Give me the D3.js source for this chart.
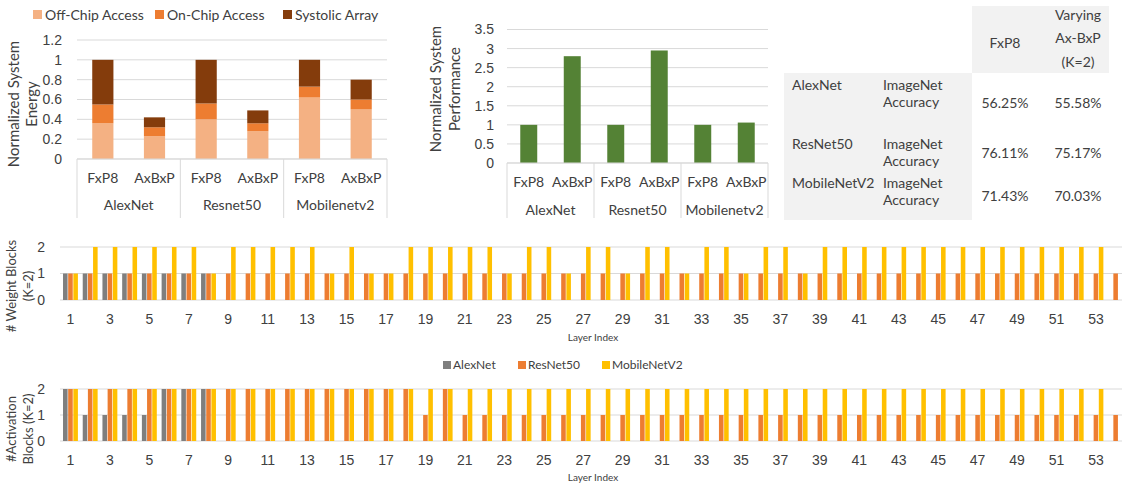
<!DOCTYPE html>
<html>
<head>
<meta charset="utf-8">
<script src="https://cdn.jsdelivr.net/npm/d3@7"></script>
<style>
  body { margin: 0; background: #fff; }
  svg { display: block; font-family: Lato, "Open Sans", sans-serif; }
  text { fill: #404040; }
</style>
</head>
<body>
<svg id="fig" width="1126" height="483"></svg>
<script>
// ---- data ----
const modelGroups = ["AlexNet", "Resnet50", "Mobilenetv2"];
const precisionModes = ["FxP8", "AxBxP"];
const energyKeys = ["Off-Chip Access", "On-Chip Access", "Systolic Array"];
// order: AlexNet FxP8, AlexNet AxBxP, Resnet50 FxP8, Resnet50 AxBxP, Mobilenetv2 FxP8, Mobilenetv2 AxBxP
const offChip = [0.36, 0.23, 0.40, 0.28, 0.62, 0.50];
const onChip = [0.19, 0.09, 0.16, 0.08, 0.11, 0.10];
const systolic = [0.45, 0.10, 0.44, 0.13, 0.27, 0.20];
const performance = [1, 2.8, 1, 2.95, 1, 1.06];

const tableHeader = ["FxP8", ["Varying", "Ax-BxP", "(K=2)"]];
const tableModels = ["AlexNet", "ResNet50", "MobileNetV2"];
const tableMetric = ["ImageNet", "Accuracy"];
const accFxP8 = ["56.25%", "76.11%", "71.43%"];
const accAxBxP = ["55.58%", "75.17%", "70.03%"];

const layerSeries = ["AlexNet", "ResNet50", "MobileNetV2"];
const layerIndex = d3.range(1, 55);
const weightAlex = [1, 1, 1, 1, 1, 1, 1, 1];
const weightResnet = [1, 1, 1, 1, 1, 1, 1, 1, 1, 1, 1, 1, 1, 1, 1, 1, 1, 1, 1, 1, 1, 1, 1, 1, 1, 1, 1,
  1, 1, 1, 1, 1, 1, 1, 1, 1, 1, 1, 1, 1, 1, 1, 1, 1, 1, 1, 1, 1, 1, 1, 1, 1, 1, 1];
const weightMobile = [1, 2, 2, 2, 2, 2, 2, 1, 2, 2, 2, 2, 2, 1, 2, 1, 1, 2, 2, 2, 2, 2, 1, 2, 2, 1, 2,
  2, 1, 2, 2, 1, 2, 2, 1, 2, 2, 1, 2, 2, 2, 2, 2, 2, 2, 2, 2, 2, 2, 2, 2, 2, 2];
const actAlex = [2, 1, 1, 1, 1, 2, 2, 2];
const actResnet = [2, 2, 2, 2, 2, 2, 2, 2, 2, 2, 2, 2, 2, 2, 2, 2, 2, 2, 1, 2, 1, 1, 1, 1, 1, 1, 1,
  1, 1, 1, 1, 1, 1, 1, 1, 1, 1, 1, 1, 1, 1, 1, 1, 1, 1, 1, 1, 1, 1, 1, 1, 1, 1, 1];
const actMobile = [2, 2, 2, 2, 2, 2, 2, 2, 2, 2, 2, 2, 2, 2, 2, 2, 2, 2, 2, 2, 2, 2, 2, 2, 2, 2, 2,
  2, 2, 2, 2, 2, 2, 2, 2, 2, 2, 2, 2, 2, 2, 2, 2, 2, 2, 2, 2, 2, 2, 2, 2, 2, 2];

const energyColors = ["#F4B183", "#ED7D31", "#843C0C"];
const perfColor = "#548235";
const layerColors = ["#7F7F7F", "#ED7D31", "#FFC000"];
const gridColor = "#D9D9D9";

const svg = d3.select("#fig");

// ---- helpers ----
function yTitle(lines, x, y, dx, size) {
  const t = svg.append("text")
    .attr("transform", `translate(${x},${y}) rotate(-90)`)
    .attr("text-anchor", "middle")
    .style("font-size", `${size}px`);
  lines.forEach((l, i) => t.append("tspan").attr("x", 0).attr("y", i * dx).text(l));
}

function groupedCategoryAxis(xScale, subScale, yBase, yBottom, ySub, yGroup) {
  const g = svg.append("g");
  const [x0, x1] = xScale.range();
  g.append("line").attr("x1", x0).attr("x2", x1).attr("y1", yBase).attr("y2", yBase)
    .attr("stroke", gridColor);
  xScale.domain().concat([null]).forEach((d) => {
    const x = d === null ? x1 : xScale(d);
    g.append("line").attr("x1", x).attr("x2", x).attr("y1", yBase).attr("y2", yBottom)
      .attr("stroke", gridColor);
  });
  xScale.domain().forEach((grp) => {
    subScale.domain().forEach((m) => {
      g.append("text")
        .attr("x", xScale(grp) + subScale(m) + subScale.bandwidth() / 2)
        .attr("y", ySub).attr("dy", "0.35em")
        .attr("text-anchor", "middle").style("font-size", "14px").text(m);
    });
    g.append("text")
      .attr("x", xScale(grp) + xScale.bandwidth() / 2)
      .attr("y", yGroup).attr("dy", "0.35em")
      .attr("text-anchor", "middle").style("font-size", "14px").text(grp);
  });
}

function valueGrid(yScale, ticks, x0, x1, labelX) {
  const g = svg.append("g");
  g.selectAll("line").data(ticks).join("line")
    .attr("x1", x0).attr("x2", x1)
    .attr("y1", (d) => yScale(d)).attr("y2", (d) => yScale(d))
    .attr("stroke", gridColor);
  svg.append("g")
    .attr("transform", `translate(${labelX},0)`)
    .call(d3.axisLeft(yScale).tickValues(ticks).tickSize(0).tickFormat(d3.format("~g")))
    .call((a) => a.select(".domain").remove())
    .selectAll("text").style("font-size", "14px").attr("fill", "#404040");
}

// ---- energy chart ----
{
  const x = d3.scaleBand().domain(modelGroups).range([77, 387]);
  const sub = d3.scaleBand().domain(precisionModes).range([0, x.bandwidth()])
    .paddingInner(0.59).paddingOuter(0.295);
  const y = d3.scaleLinear().domain([0, 1.2]).range([159, 40]);
  valueGrid(y, d3.range(0, 1.21, 0.2).map((v) => +v.toFixed(1)), 77, 387, 65);

  const rows = [];
  modelGroups.forEach((g, gi) => precisionModes.forEach((m, mi) => {
    const i = gi * 2 + mi;
    rows.push({ group: g, mode: m,
      "Off-Chip Access": offChip[i], "On-Chip Access": onChip[i], "Systolic Array": systolic[i] });
  }));
  const stacked = d3.stack().keys(energyKeys)(rows);
  svg.append("g").selectAll("g").data(stacked).join("g")
    .attr("fill", (d, i) => energyColors[i])
    .selectAll("rect").data((d) => d).join("rect")
    .attr("x", (d) => x(d.data.group) + sub(d.data.mode))
    .attr("width", sub.bandwidth())
    .attr("y", (d) => y(d[1]))
    .attr("height", (d) => y(d[0]) - y(d[1]));

  groupedCategoryAxis(x, sub, 159, 218, 178, 205);
  yTitle(["Normalized System", "Energy"], 19, 104, 18, 15);

  // legend
  const legendX = [33, 155, 283];
  const lg = svg.append("g");
  energyKeys.forEach((k, i) => {
    lg.append("rect").attr("x", legendX[i]).attr("y", 10).attr("width", 9).attr("height", 9)
      .attr("fill", energyColors[i]);
    lg.append("text").attr("x", legendX[i] + 12).attr("y", 15).attr("dy", "0.35em")
      .style("font-size", "14px").text(k);
  });
}

// ---- performance chart ----
{
  const x = d3.scaleBand().domain(modelGroups).range([507, 768]);
  const sub = d3.scaleBand().domain(precisionModes).range([0, x.bandwidth()])
    .paddingInner(0.61).paddingOuter(0.305);
  const y = d3.scaleLinear().domain([0, 3.5]).range([163, 29.5]);
  valueGrid(y, d3.range(0, 3.51, 0.5), 507, 768, 497);

  const rows = [];
  modelGroups.forEach((g, gi) => precisionModes.forEach((m, mi) => {
    rows.push({ group: g, mode: m, value: performance[gi * 2 + mi] });
  }));
  svg.append("g").selectAll("rect").data(rows).join("rect")
    .attr("fill", perfColor)
    .attr("x", (d) => x(d.group) + sub(d.mode))
    .attr("width", sub.bandwidth())
    .attr("y", (d) => y(d.value))
    .attr("height", (d) => y(0) - y(d.value));

  groupedCategoryAxis(x, sub, 163, 218, 182, 210);
  yTitle(["Normalized System", "Performance"], 441, 89, 19, 15);
}

// ---- accuracy table ----
{
  const g = svg.append("g").style("font-size", "14px");
  g.append("rect").attr("x", 972).attr("y", 6).attr("width", 137).attr("height", 67).attr("fill", "#F2F2F2");
  g.append("rect").attr("x", 784).attr("y", 73).attr("width", 188).attr("height", 147).attr("fill", "#F2F2F2");
  const colX = [1005, 1078];
  g.append("text").attr("x", colX[0]).attr("y", 43).attr("dy", "0.35em")
    .attr("text-anchor", "middle").text(tableHeader[0]);
  tableHeader[1].forEach((l, i) => g.append("text").attr("x", colX[1]).attr("y", 15 + i * 23.5)
    .attr("dy", "0.35em").attr("text-anchor", "middle").text(l));
  const rowTop = [85, 144, 183];
  const valueY = [103, 153, 196];
  tableModels.forEach((m, i) => {
    g.append("text").attr("x", 792).attr("y", rowTop[i]).attr("dy", "0.35em").text(m);
    tableMetric.forEach((l, j) => g.append("text").attr("x", 883).attr("y", rowTop[i] + j * 17.5)
      .attr("dy", "0.35em").text(l));
    g.append("text").attr("x", colX[0]).attr("y", valueY[i]).attr("dy", "0.35em")
      .attr("text-anchor", "middle").text(accFxP8[i]);
    g.append("text").attr("x", colX[1]).attr("y", valueY[i]).attr("dy", "0.35em")
      .attr("text-anchor", "middle").text(accAxBxP[i]);
  });
}

// ---- per-layer block charts ----
function layerChart(seriesValues, y0, y2, tickY, labelY, titleLines, titleY) {
  const x = d3.scaleBand().domain(layerIndex).range([60.6, 1125.5]);
  const inner = d3.scaleBand().domain(layerSeries)
    .range([(x.bandwidth() - 15.5) / 2, (x.bandwidth() + 15.5) / 2]);
  const y = d3.scaleLinear().domain([0, 2]).range([y0, y2]);
  svg.append("g").selectAll("line").data([0, 1, 2]).join("line")
    .attr("x1", 60).attr("x2", 1122)
    .attr("y1", (d) => y(d)).attr("y2", (d) => y(d))
    .attr("stroke", gridColor);
  svg.append("g").attr("transform", "translate(48,0)")
    .call(d3.axisLeft(y).tickValues([0, 1, 2]).tickSize(0).tickFormat(d3.format("d")))
    .call((a) => a.select(".domain").remove())
    .selectAll("text").style("font-size", "14px").attr("fill", "#404040");

  const bars = [];
  seriesValues.forEach((vals, si) => vals.forEach((v, li) => {
    bars.push({ series: layerSeries[si], layer: layerIndex[li], value: v, si });
  }));
  svg.append("g").selectAll("rect").data(bars).join("rect")
    .attr("x", (d) => x(d.layer) + inner(d.series) + 0.3)
    .attr("width", inner.bandwidth() - 0.6)
    .attr("y", (d) => y(d.value))
    .attr("height", (d) => y(0) - y(d.value))
    .attr("fill", (d) => layerColors[d.si]);

  svg.append("g").attr("transform", `translate(0,${tickY})`)
    .call(d3.axisBottom(x).tickValues(layerIndex.filter((d) => d % 2 === 1)).tickSize(0))
    .call((a) => a.select(".domain").remove())
    .selectAll("text").attr("dy", "0.35em").attr("y", 0)
    .style("font-size", "14px").attr("fill", "#404040");

  svg.append("text").attr("x", 593).attr("y", labelY).attr("dy", "0.35em")
    .attr("text-anchor", "middle").style("font-size", "10px").text("Layer Index");
  yTitle(titleLines, 16, titleY, 17, 13);
}

layerChart([weightAlex, weightResnet, weightMobile], 300, 247, 319, 337,
  ["# Weight Blocks", "(K=2)"], 286);
layerChart([actAlex, actResnet, actMobile], 441, 389, 460, 477,
  ["#Activation", "Blocks (K=2)"], 429);

// legend between the layer charts
{
  const legendX = [443, 518, 602];
  const lg = svg.append("g");
  layerSeries.forEach((k, i) => {
    lg.append("rect").attr("x", legendX[i]).attr("y", 361).attr("width", 8).attr("height", 8)
      .attr("fill", layerColors[i]);
    lg.append("text").attr("x", legendX[i] + 10).attr("y", 365).attr("dy", "0.35em")
      .style("font-size", "12px").text(k);
  });
}
</script>
</body>
</html>
